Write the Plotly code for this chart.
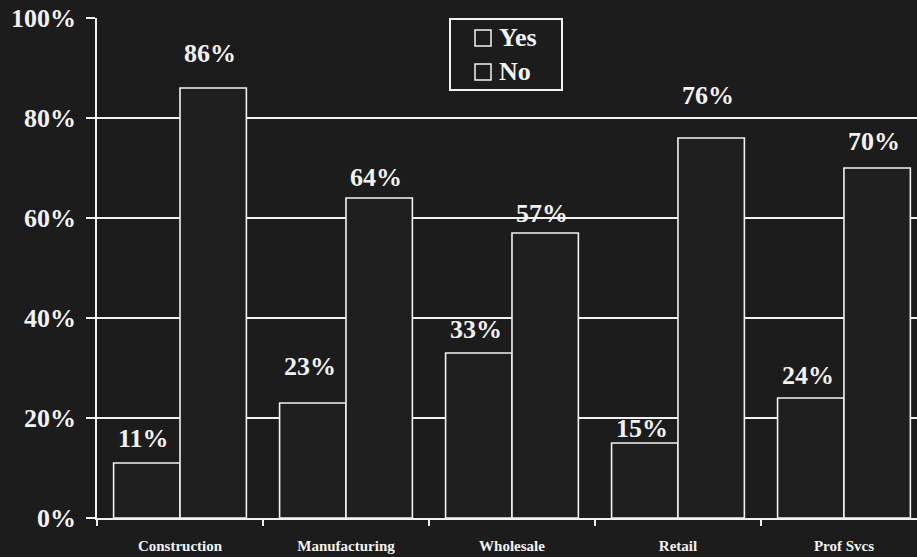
import plotly.graph_objects as go

# Survey responses by industry (percent of respondents)
categories = ["Construction", "Manufacturing", "Wholesale", "Retail", "Prof Svcs"]
series_names = ["Yes", "No"]
yes_pct = [11, 23, 33, 15, 24]
no_pct = [86, 64, 57, 76, 70]
y_ticks = [0, 20, 40, 60, 80, 100]

# Pixel lift of each value label above its bar (Yes, No)
yes_label_lift = [13, 25, 12, 3, 11]
no_label_lift = [23, 9, 8, 31, 15]

BG = "#1c1c1c"
BAR_FILL = "#1f1f1f"
INK = "#f2f2f2"
SERIF = "Liberation Serif"

W, H = 917, 557
M_L, M_R, M_T, M_B = 97, 0, 18, 39
PLOT_W, PLOT_H = W - M_L - M_R, H - M_T - M_B

BARGAP = 0.2
half = (1 - BARGAP) / 4  # offset of each bar centre from the category centre

LEGEND_FONT = 26
LEGEND_ROW = LEGEND_FONT * 1.3  # annotation line height for multi-line text
LEGEND_MID = 55                 # vertical centre of the legend rows (px from top)


def px_x(px):
    """Horizontal pixel position -> paper coordinate."""
    return (px - M_L) / PLOT_W


def px_y(py):
    """Vertical pixel position (from top) -> paper coordinate."""
    return (H - M_B - py) / PLOT_H


fig = go.Figure()
for name, vals in zip(series_names, (yes_pct, no_pct)):
    fig.add_trace(go.Bar(
        name=name, x=categories, y=vals,
        marker=dict(color=BAR_FILL, line=dict(color=INK, width=1.6)),
        hoverinfo="skip", showlegend=False,
    ))

annotations = []
for offset, vals, lifts in ((-half, yes_pct, yes_label_lift), (half, no_pct, no_label_lift)):
    for i, (v, lift) in enumerate(zip(vals, lifts)):
        annotations.append(dict(
            x=i + offset, y=v, xref="x", yref="y",
            text=f"{v}%", showarrow=False,
            yanchor="bottom", xanchor="center",
            yshift=lift - 5, xshift=-3,
            font=dict(family=SERIF, size=26, color=INK, weight="bold"),
        ))

# Boxed legend: hollow squares matching the outlined bars
shapes = [dict(
    type="rect", xref="paper", yref="paper",
    x0=px_x(450), x1=px_x(562), y0=px_y(90), y1=px_y(19),
    line=dict(color=INK, width=2), fillcolor=BG, layer="above",
)]
n = len(series_names)
for row in range(n):
    centre = LEGEND_MID + (row - (n - 1) / 2) * LEGEND_ROW
    shapes.append(dict(
        type="rect", xref="paper", yref="paper",
        x0=px_x(475), x1=px_x(491), y0=px_y(centre + 8), y1=px_y(centre - 8),
        line=dict(color=INK, width=1.5), fillcolor=BG, layer="above",
    ))
annotations.append(dict(
    x=px_x(497), y=px_y(LEGEND_MID), xref="paper", yref="paper",
    text="<br>".join(series_names), showarrow=False,
    xanchor="left", yanchor="middle", align="left",
    font=dict(family=SERIF, size=LEGEND_FONT, color=INK, weight="bold"),
))

fig.update_layout(
    width=W, height=H,
    margin=dict(l=M_L, r=M_R, t=M_T, b=M_B),
    paper_bgcolor=BG, plot_bgcolor=BG,
    barmode="group", bargap=BARGAP, bargroupgap=0,
    annotations=annotations, shapes=shapes,
    showlegend=False,
    xaxis=dict(
        type="category", range=[-0.5, 4.44],
        showline=True, linecolor=INK, linewidth=1.6,
        ticks="outside", tickson="boundaries", ticklen=6, tickcolor=INK, tickwidth=1.5,
        showgrid=False,
        tickfont=dict(family=SERIF, size=15, color=INK, weight="bold"),
        ticklabelstandoff=13,
    ),
    yaxis=dict(
        range=[0, 100], tickvals=y_ticks, ticktext=[f"{t}%" for t in y_ticks],
        showline=True, linecolor=INK, linewidth=1.6,
        ticks="outside", ticklen=9, tickcolor=INK, tickwidth=1.5,
        showgrid=True, gridcolor=INK, gridwidth=1.5,
        zeroline=False,
        tickfont=dict(family=SERIF, size=26, color=INK, weight="bold"),
        ticklabelstandoff=5,
    ),
)

fig.write_html("out.html")
